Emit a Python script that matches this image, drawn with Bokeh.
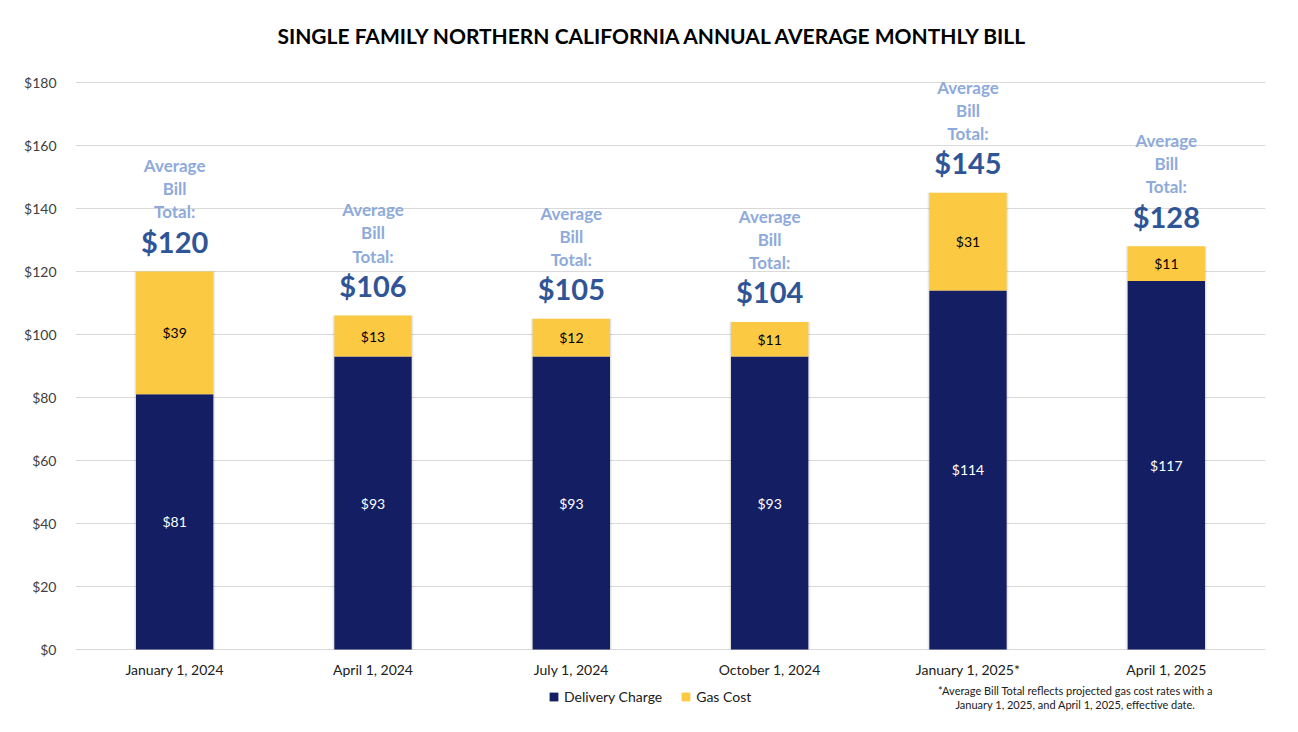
from bokeh.plotting import figure
from bokeh.models import (ColumnDataSource, FactorRange, Range1d, Legend, LegendItem,
                          Label, NumeralTickFormatter, FixedTicker)
from bokeh.core.properties import value
from bokeh.embed import file_html
from bokeh.resources import INLINE

# ---- data ----
dates = ["January 1, 2024", "April 1, 2024", "July 1, 2024",
         "October 1, 2024", "January 1, 2025*", "April 1, 2025"]
delivery = [81, 93, 93, 93, 114, 117]
gas = [39, 13, 12, 11, 31, 11]
totals = [120, 106, 105, 104, 145, 128]
y_ticks = [0, 20, 40, 60, 80, 100, 120, 140, 160, 180]

NAVY = "#141f63"
GOLD = "#fcc943"
FONT = "Lato"

# layout: the plotting frame reaches above $180 and below $0 so that the
# title, legend and footnote can sit inside it (annotations are clipped to the frame)
PLOT_H = 567          # pixels from $0 to $180
TOP_H = 82            # pixels above $180 (title area)
BOT_H = 75            # pixels below $0 (axis labels, legend, footnote)
FRAME_H = TOP_H + PLOT_H + BOT_H
YMAX = 180 + 180 * TOP_H / PLOT_H
YMIN = -180 * BOT_H / PLOT_H

src = ColumnDataSource(dict(
    x=dates,
    delivery=delivery,
    gas=gas,
    total=[d + g for d, g in zip(delivery, gas)],
    del_mid=[d / 2 for d in delivery],
    gas_mid=[d + g / 2 for d, g in zip(delivery, gas)],
    del_lbl=[f"${d}" for d in delivery],
    gas_lbl=[f"${g}" for g in gas],
    tot_lbl=[f"${t}" for t in totals],
    avg_lbl=["Average\nBill\nTotal:"] * len(dates),
))

p = figure(frame_width=1190, frame_height=FRAME_H,
           x_range=FactorRange(*dates, range_padding=0),
           y_range=Range1d(YMIN, YMAX), output_backend="svg", toolbar_location=None,
           min_border_left=75, min_border_right=25, min_border_top=0, min_border_bottom=0)

p.outline_line_color = None
p.background_fill_color = "white"
p.border_fill_color = "white"

# soft shadow
p.vbar(x="x", top="total", width=0.41, source=src, fill_color="black", fill_alpha=0.05, line_color=None)
p.vbar(x="x", top="total", width=0.40, source=src, fill_color="black", fill_alpha=0.06, line_color=None)

r_del = p.vbar(x="x", bottom=0, top="delivery", width=0.39, source=src,
               fill_color=NAVY, line_color=None)
r_gas = p.vbar(x="x", bottom="delivery", top="total", width=0.39, source=src,
               fill_color=GOLD, line_color=None)

# in-bar labels
p.text(x="x", y="del_mid", text="del_lbl", source=src, text_color="white",
       text_font=value(FONT), text_font_size="14px", text_align="center", text_baseline="middle")
p.text(x="x", y="gas_mid", text="gas_lbl", source=src, text_color="black",
       text_font=value(FONT), text_font_size="14px", text_align="center", text_baseline="middle")

# totals above bars
p.text(x="x", y="total", text="tot_lbl", source=src, text_color="#2f5597",
       text_font=value(FONT), text_font_size="29px", text_font_style="bold",
       text_align="center", text_baseline="alphabetic", y_offset=-30)
p.text(x="x", y="total", text="avg_lbl", source=src, text_color="#8eaadb",
       text_font=value(FONT), text_font_size="17px", text_font_style="bold",
       text_align="center", text_baseline="bottom", y_offset=-49, text_line_height=1.1)

# axes
p.yaxis.ticker = FixedTicker(ticks=y_ticks)
p.yaxis.formatter = NumeralTickFormatter(format="$0")
p.yaxis.axis_line_color = None
p.yaxis.major_tick_line_color = None
p.yaxis.minor_tick_line_color = None
p.yaxis.major_label_standoff = 13
p.yaxis.major_label_text_font = FONT
p.yaxis.major_label_text_font_size = "14px"
p.yaxis.major_label_text_color = "#404040"

p.xaxis.fixed_location = 0
p.xaxis.axis_line_color = None
p.xaxis.major_tick_line_color = None
p.xaxis.minor_tick_line_color = None
p.xaxis.major_label_standoff = 5
p.xaxis.major_label_text_font = FONT
p.xaxis.major_label_text_font_size = "14px"
p.xaxis.major_label_text_color = "#202020"

p.xgrid.grid_line_color = None
p.ygrid.grid_line_color = "#d9d9d9"
p.ygrid.grid_line_width = 1

# title
title = Label(x=578, y=FRAME_H - 35, x_units="screen", y_units="screen",
              text="SINGLE FAMILY NORTHERN CALIFORNIA ANNUAL AVERAGE MONTHLY BILL",
              text_font=FONT, text_font_size="21px", text_font_style="bold",
              text_align="center", text_baseline="middle", text_color="#000000")
p.add_layout(title)

legend = Legend(items=[LegendItem(label="Delivery Charge", renderers=[r_del]),
                       LegendItem(label="Gas Cost", renderers=[r_gas])],
                orientation="horizontal", location=(473, 19),
                border_line_alpha=0, background_fill_alpha=0,
                label_text_font=FONT, label_text_font_size="14px", label_text_color="#202020",
                glyph_width=11, glyph_height=11, spacing=18, padding=0, margin=0,
                label_standoff=5)
p.add_layout(legend, "center")

foot = Label(x=1000, y=41, x_units="screen", y_units="screen",
             text="*Average Bill Total reflects projected gas cost rates with a\nJanuary 1, 2025, and April 1, 2025, effective date.",
             text_font=FONT, text_font_size="11px", text_align="center",
             text_baseline="top", text_color="#202020", text_line_height=1.1)
p.add_layout(foot)

open("out.html", "w").write(file_html(p, INLINE))
